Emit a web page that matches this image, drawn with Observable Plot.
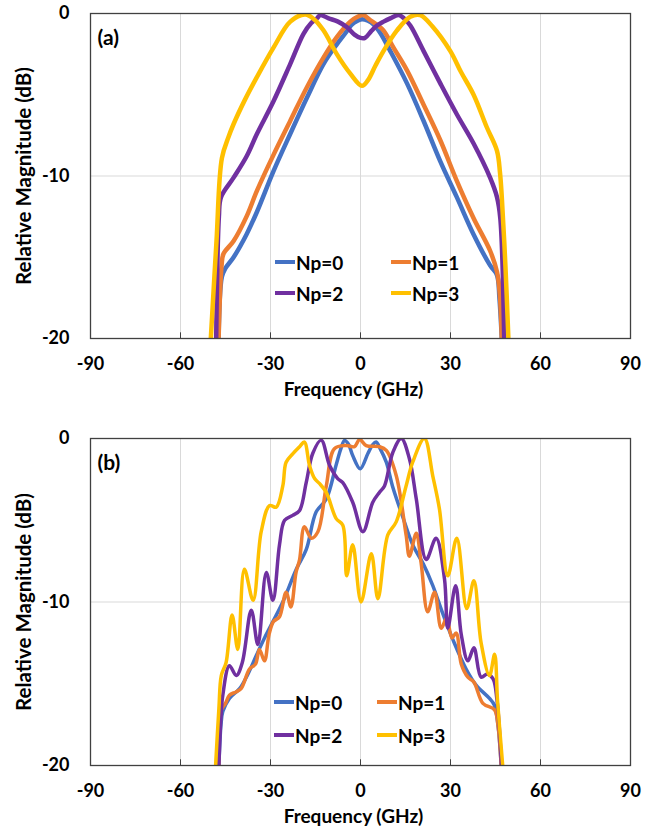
<!DOCTYPE html>
<html><head><meta charset="utf-8">
<script src="https://cdn.jsdelivr.net/npm/d3@7"></script>
<script src="https://cdn.jsdelivr.net/npm/@observablehq/plot@0.6"></script>
<style>
body{margin:0;background:#fff;font-family:Lato,sans-serif;}
#wrap{position:relative;width:662px;height:838px;overflow:hidden;}
.panel{position:absolute;left:0;width:662px;}
.leg{position:absolute;display:flex;align-items:center;font:bold 19px Lato,sans-serif;color:#000;line-height:1;white-space:nowrap;}
.sw{display:inline-block;width:20px;height:4px;margin-right:1px;}
</style></head><body><div id="wrap"></div>
<script>
// ---------- data ----------
const seriesNames = ["Np=0", "Np=1", "Np=2", "Np=3"];
const seriesColors = ["#4472C4", "#ED7D31", "#7030A0", "#FFC000"];
const xTicks = [-90, -60, -30, 0, 30, 60, 90];
const yTicks = [0, -10, -20];
const xLabel = "Frequency (GHz)";
const yLabel = "Relative Magnitude (dB)";

// panel (a)
const aF0 = [-47.3,-46.2,-45.1,-42.3,-38,-34.5,-29,-23.4,-17.9,-12.3,-7.9,-5,-3,-1,0.5,2.5,4.5,6.6,9.9,15.5,21,26.6,32.1,37.7,43.2,45.5,46.3,47.1];
const aM0 = [-20,-16.2,-15.7,-15.0,-13.6,-12.2,-9.7,-7.4,-5.2,-3.1,-1.9,-1.2,-0.7,-0.45,-0.35,-0.45,-0.7,-1.2,-2.3,-4.3,-6.6,-9.1,-11.3,-13.6,-15.5,-16.1,-17.5,-20];
const aF1 = [-47.3,-46.3,-45.7,-42.3,-38,-34.5,-29,-23.4,-17.9,-12.3,-7.9,-3.4,-1,1,3.2,5.5,7.7,11,15.5,21,26.6,32.1,37.7,43.2,45.5,46.4,47.1];
const aM1 = [-20,-15.5,-14.8,-14.0,-12.5,-10.9,-8.7,-6.6,-4.55,-2.7,-1.45,-0.5,-0.2,-0.1,-0.4,-0.7,-1.05,-2.1,-3.5,-5.6,-7.8,-10.3,-12.6,-14.6,-15.9,-17.2,-20];
const aF2 = [-48.1,-47.2,-46.5,-42.3,-38,-34.5,-29,-23.4,-19,-16.5,-14.5,-13.4,-10.6,-7.5,-4.5,-2,0,1.5,3.5,5.5,7.7,9.9,12.7,14.5,16.6,21,26.6,32.1,37.7,43.2,45.5,46.6,47.9];
const aM2 = [-20,-12.5,-11.3,-10.1,-8.8,-7.4,-5.4,-3.1,-1.25,-0.6,-0.3,-0.1,-0.3,-0.5,-0.85,-1.3,-1.5,-1.5,-1.1,-0.74,-0.5,-0.3,-0.1,-0.3,-0.74,-2.3,-4.3,-6.2,-8.0,-10.1,-11.3,-12.6,-20];
const aF3 = [-49.9,-48,-46.2,-44,-42.3,-38.5,-34.5,-29,-23.4,-18.4,-15.5,-12.3,-7.9,-3.4,0.5,2.5,5,7.7,12.1,16.6,19.9,24,29.9,33.5,37.7,42.1,45.5,46.5,47.1,48.3,49.3];
const aM3 = [-20,-14,-8.9,-7.6,-6.8,-5.3,-3.9,-2.1,-0.5,-0.06,-0.35,-1.05,-2.5,-3.7,-4.45,-4.1,-3.2,-2.3,-1.05,-0.2,-0.1,-0.8,-2.3,-3.6,-5.0,-7.0,-8.45,-9.8,-11.3,-15.5,-20];

// panel (b)
const bF0 = [-47.2,-46.5,-45.9,-43.7,-40.3,-37.5,-34.8,-32,-29.2,-25.9,-21.4,-18.1,-14.8,-11.4,-8.1,-6.5,-5.3,-4,-2.6,-0.1,2.5,4,5.2,6.5,8.6,10.8,14.1,17.4,21,24.1,27.4,30.8,35.2,38.6,43,44.6,45.8,46.9];
const bM0 = [-20,-17.5,-16.7,-15.9,-15.3,-14.4,-13.3,-12.2,-11.2,-10.0,-8.0,-6.8,-4.5,-3.7,-1.6,-0.6,-0.12,-0.35,-1.04,-1.85,-0.9,-0.4,-0.22,-0.6,-1.45,-3.0,-4.8,-6.5,-7.7,-9.0,-10.7,-12.3,-14.1,-15.1,-15.9,-16.3,-17.5,-20];
const bF1 = [-47.2,-46.4,-45,-43.7,-41.5,-39.8,-37,-35,-33.7,-32,-30.5,-29,-27,-24.8,-23.2,-21.5,-20.3,-18.7,-16.4,-14.2,-11.4,-8.7,-4.8,-2,-0.3,1.9,6.3,8.6,11.9,15.2,16.3,18.6,20.2,22.4,24.7,26.9,28.7,30.5,31.9,33.6,35.8,37.8,40.8,44.7,45.8,46.9];
const bM1 = [-20,-16.6,-16.2,-15.7,-15.5,-15.3,-14.1,-13.8,-12.9,-13.6,-12,-11.2,-10.9,-9.4,-10.3,-8.2,-7.4,-5.4,-6.1,-5.7,-2.9,-0.63,-0.43,-0.5,-0.06,-0.43,-0.5,-0.73,-2.26,-5.9,-7.2,-5.8,-7.6,-10.6,-9.4,-11.6,-11.0,-12.2,-11.9,-13.8,-14.6,-14.9,-16.2,-16.6,-17.5,-20];
const bF2 = [-47.2,-46.5,-45.9,-43.7,-41.4,-39.4,-36.4,-34.2,-31.4,-29.2,-27,-25.3,-22.6,-20.3,-18.1,-15.9,-13.1,-10.3,-7.6,-5.9,-2.6,0.8,4.1,6.3,8,10.8,13.6,16.3,18.6,21.9,25.2,28,29.1,31.7,33.6,35.8,37.8,40.2,42.3,44.2,45.5,47];
const bM2 = [-20,-17,-15.7,-13.9,-14.5,-13.7,-10.5,-12.6,-8.2,-9.9,-6.5,-5.0,-4.7,-4.4,-2.7,-0.9,-0.1,-1.65,-2.45,-2.7,-3.9,-5.7,-3.9,-3.3,-2.9,-0.84,0,-1.24,-3.7,-7.4,-6.1,-8.6,-11.6,-9.0,-12.0,-13.6,-12.8,-14.6,-14.4,-14.7,-16,-20];
const bF3 = [-48.3,-47.2,-46.4,-44.8,-42.8,-40.9,-38.7,-35.8,-33.1,-30.3,-28.1,-25.9,-24.8,-22.6,-20.3,-18.7,-17,-15.3,-13.7,-11.4,-8.1,-5.9,-4.6,-2.6,0.2,3.6,5.8,9.1,11.9,15.2,17.4,21.3,24.1,26.3,29.1,32.1,35.4,37.8,40.2,43,44.7,45.7,47.4];
const bM3 = [-20,-16.5,-14.5,-13.7,-10.8,-12.9,-8.0,-9.9,-5.7,-4.1,-4.2,-2.9,-1.45,-0.94,-0.5,-0.22,-1.65,-2.45,-2.75,-3.3,-4.9,-5.3,-8.4,-6.5,-10.0,-7.05,-9.8,-5.9,-5.1,-2.9,-1.45,0,-2.3,-4.3,-8.4,-6.1,-10.4,-8.7,-12.5,-14.5,-13.2,-16.1,-20];

// ---------- drawing ----------
function rows(fs, ms) {
  return fs.flatMap((f, k) => f.map((x, i) => ({f: x, m: ms[k][i], name: seriesNames[k]})));
}

function panel(tag, data, height, marginBottom, sw) {
  return Plot.plot({
    width: 662, height,
    marginLeft: 90, marginRight: 32, marginTop: 13, marginBottom,
    x: {domain: [-90, 90]},
    y: {domain: [-20, 0]},
    color: {domain: seriesNames, range: seriesColors},
    style: {fontFamily: "Lato, sans-serif", fontSize: "18px", fontWeight: "bold", color: "#000", background: "#fff", overflow: "visible"},
    marks: [
      Plot.gridX(xTicks.slice(1, -1), {stroke: "#d9d9d9", strokeOpacity: 1, strokeWidth: 1}),
      Plot.gridY([-10], {stroke: "#d9d9d9", strokeOpacity: 1, strokeWidth: 1}),
      Plot.line(data, {x: "f", y: "m", z: "name", stroke: "name", strokeWidth: sw, curve: "catmull-rom", clip: true, strokeLinejoin: "round"}),
      Plot.ruleX(xTicks.slice(1, -1), {y1: -20, y2: -19.65, stroke: "#404040"}),
      Plot.frame({stroke: "#404040", strokeWidth: 1.3}),
      Plot.axisX({ticks: xTicks, tickSize: 0, tickPadding: 19, label: null, tickFormat: d => String(d)}),
      Plot.axisY({ticks: yTicks, tickSize: 0, tickPadding: 21, label: null, tickFormat: d => String(d)}),
      Plot.text([xLabel], {frameAnchor: "bottom", textAnchor: "middle", dx: -7, dy: 57, fontSize: 19, fontWeight: "bold"}),
      Plot.text([yLabel], {frameAnchor: "left", textAnchor: "middle", dx: -66, rotate: -90, fontSize: 20.5, fontWeight: "bold"}),
      Plot.text([tag], {frameAnchor: "top-left", dx: 7, dy: 17, textAnchor: "start", fontSize: 21, fontWeight: "bold"})
    ]
  });
}

const wrap = document.getElementById("wrap");

function addPanel(top, chart, legendPos) {
  const div = document.createElement("div");
  div.className = "panel";
  div.style.top = top + "px";
  div.appendChild(chart);
  legendPos.forEach((p, k) => {
    const it = document.createElement("div");
    it.className = "leg";
    it.style.left = p[0] + "px";
    it.style.top = (p[1] - 10) + "px";
    it.style.height = "20px";
    const s = document.createElement("span");
    s.className = "sw";
    s.style.background = seriesColors[k];
    it.appendChild(s);
    it.appendChild(document.createTextNode(seriesNames[k]));
    div.appendChild(it);
  });
  wrap.appendChild(div);
}

const chartA = panel("(a)", rows([aF0, aF1, aF2, aF3], [aM0, aM1, aM2, aM3]), 425, 87, 4.5);
const chartB = panel("(b)", rows([bF0, bF1, bF2, bF3], [bM0, bM1, bM2, bM3]), 413, 73, 3.5);

addPanel(0, chartA, [[275, 262], [391, 262], [275, 293], [391, 293]]);
addPanel(425, chartB, [[274, 277], [377, 277], [274, 310], [377, 310]]);
</script>
</body></html>
